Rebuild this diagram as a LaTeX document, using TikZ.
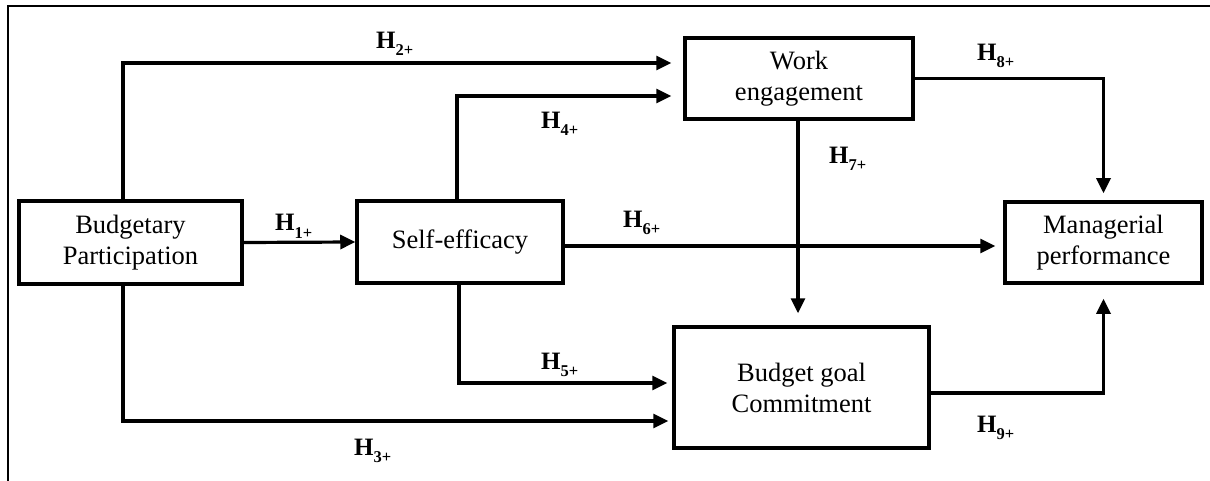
\documentclass[tikz,border=0pt]{standalone}
\usepackage{fontspec}
\setmainfont{Liberation Serif}
\usetikzlibrary{arrows.meta,calc}
\newcommand\hlab[1]{\textbf{H\raisebox{-7pt}{\fontsize{16.5}{16.5}\selectfont #1+}}}
\begin{document}
\begin{tikzpicture}[x=1pt,y=-1pt,
  box/.style={draw,line width=3.5pt,align=center,inner sep=0pt,
    font=\fontsize{26.5}{31}\selectfont},
  lab/.style={anchor=base west,inner sep=0pt,font=\fontsize{25}{25}\selectfont},
  arr/.style={line width=3.2pt,-{Triangle[length=15pt,width=14pt]}}]
\useasboundingbox (0,0) rectangle (1210,481);
% frame
\coordinate (f1) at (8,481);
\coordinate (f2) at (8,6);
\coordinate (f3) at (1210,6);
\draw[line width=2pt] (f1) -- (f2) -- (f3);
% boxes
\node[box,minimum width=223pt,minimum height=83pt] (bp) at (130.5,242.5) {Budgetary\\Participation};
\node[box,minimum width=206pt,minimum height=82pt] (se) at (460,242) {\raisebox{-3pt}{Self-efficacy}};
\node[box,minimum width=228pt,minimum height=81pt] (we) at (799,78.5) {Work\\engagement};
\node[box,minimum width=255pt,minimum height=121pt] (bgc) at (801.5,387.5) {Budget goal\\Commitment};
\node[box,minimum width=197pt,minimum height=81pt] (mp) at (1103.5,242.5) {Managerial\\performance};
% connectors
\draw[arr] (bp.east) -- (se.west);
\draw[arr,shorten >=12pt] ([xshift=-7.5pt]bp.north) |- ([yshift=15.5pt]we.west);
\draw[arr,shorten >=4pt] ([xshift=-7.5pt]bp.south) |- ([yshift=-33.5pt]bgc.west);
\draw[arr,shorten >=12pt] ([xshift=-3pt]se.north) |- ([yshift=-17.5pt]we.west);
\draw[arr,shorten >=5pt] ([xshift=-1pt]se.south) |- ([yshift=4.5pt]bgc.west);
\draw[arr,shorten >=8pt] ([yshift=-4pt]se.east) -- ([yshift=-4pt]se.east -| mp.west);
\draw[arr,shorten >=12pt] ([xshift=-1pt]we.south) -- ([xshift=-1pt]we.south |- bgc.north);
\draw[arr,shorten >=7pt] (we.east) -| (mp.north);
\draw[arr,shorten >=14pt] ([yshift=-5.5pt]bgc.east) -| (mp.south);
% labels
\node[lab] (h1) at (275,231) {\hlab{1}};
\node[lab] (h2) at (376,49) {\hlab{2}};
\node[lab] (h3) at (354,455) {\hlab{3}};
\node[lab] (h4) at (541,129) {\hlab{4}};
\node[lab] (h5) at (541,369) {\hlab{5}};
\node[lab] (h6) at (623,228) {\hlab{6}};
\node[lab] (h7) at (829,164) {\hlab{7}};
\node[lab] (h8) at (977,61) {\hlab{8}};
\node[lab] (h9) at (977,432) {\hlab{9}};
\end{tikzpicture}
\end{document}
